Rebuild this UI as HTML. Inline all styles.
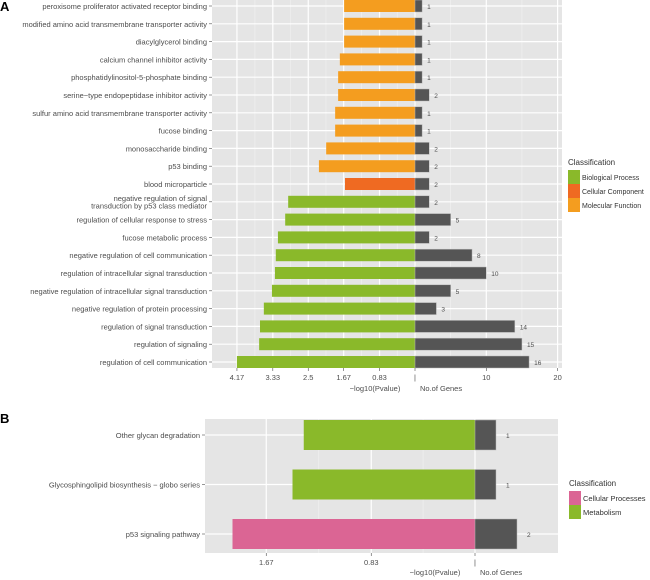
<!DOCTYPE html>
<html><head><meta charset="utf-8"><style>
body{margin:0;background:#fff;}
svg{display:block;font-family:"Liberation Sans",sans-serif;}
</style></head><body>
<svg id="c" width="650" height="580"></svg>
<script>
const catsA=["peroxisome proliferator activated receptor binding","modified amino acid transmembrane transporter activity","diacylglycerol binding","calcium channel inhibitor activity","phosphatidylinositol-5-phosphate binding","serine−type endopeptidase inhibitor activity","sulfur amino acid transmembrane transporter activity","fucose binding","monosaccharide binding","p53 binding","blood microparticle","negative regulation of signal\ntransduction by p53 class mediator","regulation of cellular response to stress","fucose metabolic process","negative regulation of cell communication","regulation of intracellular signal transduction","negative regulation of intracellular signal transduction","negative regulation of protein processing","regulation of signal transduction","regulation of signaling","regulation of cell communication"];
const pvalA=[1.66,1.66,1.66,1.76,1.8,1.8,1.87,1.87,2.08,2.25,1.64,2.97,3.04,3.21,3.26,3.28,3.35,3.54,3.63,3.65,4.17];
const genesA=[1,1,1,1,1,2,1,1,2,2,2,2,5,2,8,10,5,3,14,15,16];
const classA=["MF","MF","MF","MF","MF","MF","MF","MF","MF","MF","CC","BP","BP","BP","BP","BP","BP","BP","BP","BP","BP"];
const pTicksA=[4.17,3.33,2.5,1.67,0.83];
const gTicksA=[10,20];
const catsB=["Other glycan degradation","Glycosphingolipid biosynthesis − globo series","p53 signaling pathway"];
const pvalB=[1.37,1.46,1.94];
const genesB=[1,1,2];
const classB=["MET","MET","CP"];
const pTicksB=[1.67,0.83];
const colors={BP:"#8ab92a",CC:"#ef6a22",MF:"#f49d1f",CP:"#db6594",MET:"#8ab92a"};
const svg=document.getElementById('c');
const NS="http://www.w3.org/2000/svg";
function el(t,a,p){const e=document.createElementNS(NS,t);for(const k in a)e.setAttribute(k,a[k]);(p||svg).appendChild(e);return e;}
function txt(s,x,y,o,p){const e=el('text',Object.assign({x:x,y:y,'font-size':8,fill:'#4d4d4d'},o||{}),p);e.textContent=s;return e;}

function panel(cfg){
  const g=el('g',{});
  
  
  el('rect',{x:cfg.left,y:cfg.top,width:cfg.right-cfg.left,height:cfg.bottom-cfg.top,fill:'#e5e5e5'},g);
  const px=v=>cfg.zero-v*cfg.pScale;
  const gx=v=>cfg.zero+v*cfg.gScale;
  const cy=i=>cfg.y0+i*cfg.step;
  const majors=[...cfg.pTicks.map(px),cfg.zero,...cfg.gTicks.map(gx)].sort((a,b)=>a-b);
  for(let i=0;i<majors.length-1;i++){el('line',{x1:(majors[i]+majors[i+1])/2,x2:(majors[i]+majors[i+1])/2,y1:cfg.top,y2:cfg.bottom,stroke:'#f2f2f2','stroke-width':0.6},g);}
  majors.forEach(x=>el('line',{x1:x,x2:x,y1:cfg.top,y2:cfg.bottom,stroke:'#fff','stroke-width':1.2},g));
  cfg.cats.forEach((c,i)=>el('line',{x1:cfg.left,x2:cfg.right,y1:cy(i),y2:cy(i),stroke:'#fff','stroke-width':1.2},g));
  cfg.cats.forEach((c,i)=>{
    const y=cy(i);
    const b=el('rect',{x:px(cfg.pvals[i]),y:y-cfg.bh/2,width:cfg.pvals[i]*cfg.pScale,height:cfg.bh,fill:colors[cfg.cls[i]]},g);
    
    
    const gb=el('rect',{x:cfg.zero,y:y-cfg.bh/2,width:cfg.genes[i]*cfg.gScale,height:cfg.bh,fill:'#555555',stroke:'#bbb','stroke-width':0.5},g);
    
    
    txt(String(cfg.genes[i]),gx(cfg.genes[i])+cfg.lblOff,y+3,{'font-size':cfg.fs-1},g);
    el('line',{x1:cfg.left-3,x2:cfg.left,y1:y,y2:y,stroke:'#4d4d4d','stroke-width':0.6},g);
    const lines=c.split('\n');
    lines.forEach((l,k)=>txt(l,cfg.left-5,y+3+(k-(lines.length-1)/2)*cfg.fs,{'text-anchor':'end','font-size':cfg.fs},g));
  });
  const ticks=[...cfg.pTicks.map(v=>[px(v),String(v)]),[cfg.zero,'|'],...cfg.gTicks.map(v=>[gx(v),String(v)])];
  ticks.forEach(([x,l])=>{el('line',{x1:x,x2:x,y1:cfg.bottom,y2:cfg.bottom+3,stroke:'#4d4d4d','stroke-width':0.6},g);txt(l,x,cfg.bottom+12,{'text-anchor':'middle','font-size':cfg.fs},g);});
  txt('−log10(Pvalue)',cfg.zero-40,cfg.bottom+cfg.titleOff,{'text-anchor':'middle','font-size':cfg.fs},g);
  txt('No.of Genes',cfg.zero+5,cfg.bottom+cfg.titleOff,{'font-size':cfg.fs},g);
}
panel({name:'panel-a',cats:catsA,pvals:pvalA,genes:genesA,cls:classA,pTicks:pTicksA,gTicks:gTicksA,left:212,right:562,top:0,bottom:368,zero:415,pScale:42.7,gScale:7.13,y0:6,step:17.8,bh:12,fs:7.5,lblOff:5,titleOff:23});
panel({name:'panel-b',cats:catsB,pvals:pvalB,genes:genesB,cls:classB,pTicks:pTicksB,gTicks:[],left:205,right:558,top:419,bottom:553,zero:475,pScale:125,gScale:21,y0:435,step:49.5,bh:30,fs:7.5,lblOff:10,titleOff:22});
txt('A',0,11,{'font-size':13,'font-weight':'bold',fill:'#000'});
txt('B',0,423,{'font-size':13,'font-weight':'bold',fill:'#000'});
function legend(name,x,y,items,fs){
  const g=el('g',{});
  
  
  txt('Classification',x,y,{'font-size':8,fill:'#333'},g);
  items.forEach(([l,c],i)=>{
    el('rect',{x:x,y:y+5+i*14,width:12,height:14,fill:c},g);
    txt(l,x+14,y+15+i*14,{'font-size':fs,fill:'#333'},g);
  });
}
legend('legend-a',568,165,[["Biological Process",colors.BP],["Cellular Component",colors.CC],["Molecular Function",colors.MF]],7);
legend('legend-b',569,486,[["Cellular Processes",colors.CP],["Metabolism",colors.MET]],7.5);
</script>
</body></html>
